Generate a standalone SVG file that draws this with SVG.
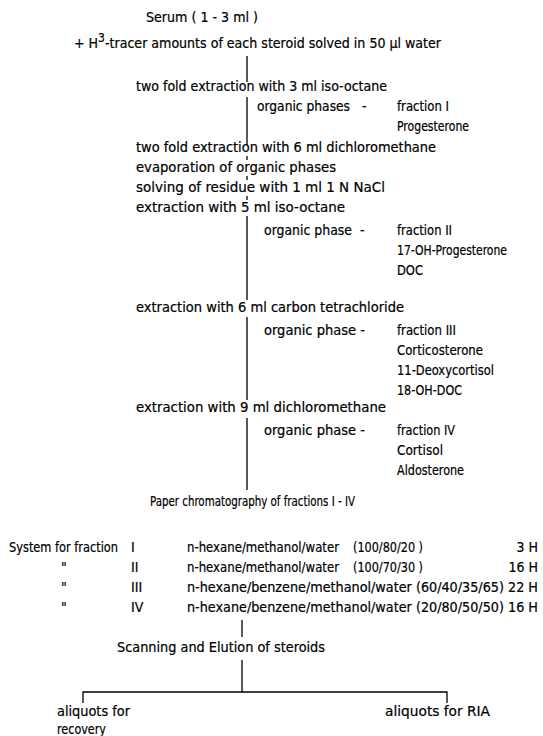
<svg xmlns="http://www.w3.org/2000/svg" width="543" height="736" viewBox="0 0 543 736">
<style>
text{font-family:"DejaVu Sans Condensed","DejaVu Sans","Liberation Sans",sans-serif;font-size:14px;fill:#000;stroke:#000;stroke-width:0.2}
.r{font-size:13.5px}
.c{stroke:#000;stroke-width:1.3;fill:none}
</style>
<rect width="543" height="736" fill="#fff"/>
<g id="connectors">
<line class="c" x1="247" y1="56" x2="247" y2="82"/>
<line class="c" x1="247" y1="97" x2="247" y2="145"/>
<line class="c" x1="247" y1="156" x2="247" y2="160"/>
<line class="c" x1="247" y1="176" x2="247" y2="180"/>
<line class="c" x1="247" y1="196" x2="247" y2="200"/>
<line class="c" x1="247" y1="216" x2="247" y2="300"/>
<line class="c" x1="247" y1="317" x2="247" y2="400"/>
<line class="c" x1="247" y1="418" x2="247" y2="490"/>
<line class="c" x1="242" y1="620" x2="242" y2="637"/>
<line class="c" x1="242" y1="660" x2="242" y2="692"/>
<polyline class="c" points="83,703 83,692 447,692 447,703"/>
</g>
<g id="serum"><text x="146" y="22" textLength="112" lengthAdjust="spacingAndGlyphs">Serum ( 1 - 3 ml )</text></g>
<g id="tracer"><text x="74" y="48" textLength="367" lengthAdjust="spacingAndGlyphs">+ H<tspan dy="-6" font-size="12">3</tspan><tspan dy="6">-tracer amounts of each steroid solved in 50 µl water</tspan></text></g>
<g id="ext1"><text x="136" y="91" textLength="251" lengthAdjust="spacingAndGlyphs">two fold extraction with 3 ml iso-octane</text></g>
<g id="frac1">
<text x="257" y="111" textLength="93" lengthAdjust="spacingAndGlyphs">organic phases</text><text x="362" y="111">-</text>
<text class="r" x="397" y="111" textLength="52" lengthAdjust="spacingAndGlyphs">fraction  I</text>
<text class="r" x="397" y="131" textLength="72" lengthAdjust="spacingAndGlyphs">Progesterone</text>
</g>
<g id="ext2">
<text x="136" y="152" textLength="300" lengthAdjust="spacingAndGlyphs">two fold extraction with 6 ml dichloromethane</text>
<text x="136" y="172" textLength="200" lengthAdjust="spacingAndGlyphs">evaporation of organic phases</text>
<text x="136" y="192" textLength="249" lengthAdjust="spacingAndGlyphs">solving of residue with 1 ml 1 N NaCl</text>
<text x="136" y="212" textLength="209" lengthAdjust="spacingAndGlyphs">extraction with 5 ml iso-octane</text>
</g>
<g id="frac2">
<text x="264" y="235" textLength="88" lengthAdjust="spacingAndGlyphs">organic phase</text><text x="360" y="235">-</text>
<text class="r" x="397" y="235" textLength="55" lengthAdjust="spacingAndGlyphs">fraction  II</text>
<text class="r" x="397" y="255" textLength="110" lengthAdjust="spacingAndGlyphs">17-OH-Progesterone</text>
<text class="r" x="397" y="275" textLength="26" lengthAdjust="spacingAndGlyphs">DOC</text>
</g>
<g id="ext3"><text x="136" y="312" textLength="268" lengthAdjust="spacingAndGlyphs">extraction with 6 ml carbon tetrachloride</text></g>
<g id="frac3">
<text x="264" y="335" textLength="101" lengthAdjust="spacingAndGlyphs">organic phase -</text>
<text class="r" x="397" y="335" textLength="59" lengthAdjust="spacingAndGlyphs">fraction  III</text>
<text class="r" x="397" y="355" textLength="86" lengthAdjust="spacingAndGlyphs">Corticosterone</text>
<text class="r" x="397" y="375" textLength="97" lengthAdjust="spacingAndGlyphs">11-Deoxycortisol</text>
<text class="r" x="397" y="395" textLength="65" lengthAdjust="spacingAndGlyphs">18-OH-DOC</text>
</g>
<g id="ext4"><text x="136" y="412" textLength="250" lengthAdjust="spacingAndGlyphs">extraction with 9 ml dichloromethane</text></g>
<g id="frac4">
<text x="264" y="435" textLength="101" lengthAdjust="spacingAndGlyphs">organic phase -</text>
<text class="r" x="397" y="435" textLength="58" lengthAdjust="spacingAndGlyphs">fraction  IV</text>
<text class="r" x="397" y="455" textLength="46" lengthAdjust="spacingAndGlyphs">Cortisol</text>
<text class="r" x="397" y="475" textLength="67" lengthAdjust="spacingAndGlyphs">Aldosterone</text>
</g>
<g id="paper"><text x="150" y="506" textLength="205" lengthAdjust="spacingAndGlyphs">Paper chromatography of fractions I - IV</text></g>
<g id="systems">
<text x="9" y="552" textLength="109" lengthAdjust="spacingAndGlyphs">System for fraction</text><text x="131" y="552">I</text>
<text x="187" y="552" textLength="152" lengthAdjust="spacingAndGlyphs">n-hexane/methanol/water</text><text x="353" y="552" textLength="70" lengthAdjust="spacingAndGlyphs">(100/80/20 )</text><text x="538" y="552" text-anchor="end">3 H</text>
<text x="61" y="572">"</text><text x="131" y="572">II</text>
<text x="187" y="572" textLength="152" lengthAdjust="spacingAndGlyphs">n-hexane/methanol/water</text><text x="353" y="572" textLength="70" lengthAdjust="spacingAndGlyphs">(100/70/30 )</text><text x="538" y="572" text-anchor="end">16  H</text>
<text x="61" y="592">"</text><text x="131" y="592">III</text>
<text x="187" y="592" textLength="351" lengthAdjust="spacingAndGlyphs">n-hexane/benzene/methanol/water (60/40/35/65) 22 H</text>
<text x="61" y="612">"</text><text x="131" y="612">IV</text>
<text x="187" y="612" textLength="351" lengthAdjust="spacingAndGlyphs">n-hexane/benzene/methanol/water (20/80/50/50) 16 H</text>
</g>
<g id="scanning"><text x="117" y="652" textLength="208" lengthAdjust="spacingAndGlyphs">Scanning and Elution of steroids</text></g>
<g id="recovery"><text x="57" y="716" textLength="73" lengthAdjust="spacingAndGlyphs">aliquots for</text><text x="57" y="734" textLength="49" lengthAdjust="spacingAndGlyphs">recovery</text></g>
<g id="ria"><text x="385" y="716" textLength="105" lengthAdjust="spacingAndGlyphs">aliquots for  RIA</text></g>
</svg>
